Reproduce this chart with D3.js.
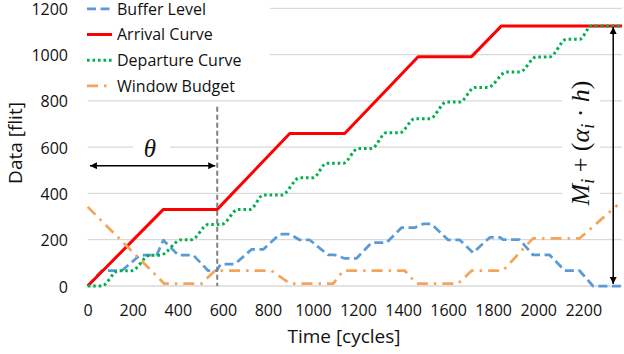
<!DOCTYPE html>
<html>
<head>
<meta charset="utf-8">
<script src="https://cdn.jsdelivr.net/npm/d3@7"></script>
<style>
  body { margin: 0; background: #fff; }
  svg { display: block; }
  text { font-family: "Open Sans", "Noto Sans", sans-serif; fill: #111; }
  text.math { font-family: "Liberation Serif", "DejaVu Serif", serif; }
</style>
</head>
<body>
<svg id="chart" width="624" height="354"></svg>
<script>
// данные: [время, значение]
const bufferLevel = [[0,0],[62,66],[151,66],[232,133],[306,133],[336,198],[402,133],[469,133],[535,66],[572,66],[590,94],[653,94],[727,158],[779,158],[853,224],[897,224],[942,199],[986,199],[1067,134],[1097,134],[1141,119],[1193,119],[1260,187],[1326,187],[1393,252],[1452,252],[1489,268],[1526,268],[1600,199],[1652,199],[1711,144],[1785,210],[1830,210],[1844,200],[1918,200],[1977,134],[2051,134],[2118,66],[2184,66],[2243,0],[2372,0]];
const arrivalCurve = [[0,0],[336,331],[575,331],[897,659],[1141,659],[1467,991],[1704,991],[1837,1124],[2372,1124]];
const departureCurve = [[0,0],[62,0],[136,66],[195,66],[276,133],[321,133],[417,200],[461,200],[535,266],[594,266],[668,331],[721,331],[779,393],[861,393],[942,468],[1001,468],[1060,530],[1134,530],[1200,594],[1260,594],[1326,662],[1386,662],[1452,723],[1519,723],[1593,795],[1652,795],[1718,858],[1777,858],[1859,925],[1918,925],[1992,990],[2051,990],[2125,1066],[2184,1066],[2236,1124],[2372,1124]];
const windowBudget = [[0,342],[340,10],[505,10],[565,66],[816,66],[898,10],[1090,10],[1134,66],[1408,66],[1460,10],[1644,10],[1704,66],[1843,66],[1977,206],[2184,206],[2352,350]];

const xTicks = [0,200,400,600,800,1000,1200,1400,1600,1800,2000,2200];
const yTicks = [0,200,400,600,800,1000,1200];
const seriesNames = ['Buffer Level','Arrival Curve','Departure Curve','Window Budget'];

const theta = 575;       // положение пунктирной линии θ
const mArrowX = 2333;    // положение стрелки M_i + (α_i·h)

const svg = d3.select('#chart');
const x = d3.scaleLinear().domain([0, 2372]).range([87.7, 622]);
const y = d3.scaleLinear().domain([0, 1200]).range([286, 8.3]);

// стили серий
const styles = [
    { data: bufferLevel,    color: '#5B9BD5', width: 2.75, dash: '9,4.5',        curve: d3.curveLinear },
    { data: arrivalCurve,   color: '#FF0000', width: 3,    dash: null,           curve: d3.curveLinear },
    { data: departureCurve, color: '#00B050', width: 3,    dash: '2.6,2.9',      curve: d3.curveMonotoneX },
    { data: windowBudget,   color: '#F4A55A', width: 2.75, dash: '11,6,2.5,6',   curve: d3.curveLinear }
];

// сетка
svg.append('g').selectAll('line')
    .data(yTicks)
    .enter()
    .append('line')
    .attr('x1', x.range()[0]).attr('x2', x.range()[1])
    .attr('y1', d => y(d)).attr('y2', d => y(d))
    .attr('stroke', '#d9d9d9')
    .attr('stroke-width', 1.3);

// подписи осей
const yAxis = d3.axisLeft(y).tickValues(yTicks).tickFormat(d3.format('d')).tickSize(0).tickPadding(0);
svg.append('g')
    .attr('transform', 'translate(68,0)')
    .call(yAxis)
    .call(g => g.select('.domain').remove())
    .call(g => g.selectAll('text')
        .attr('font-size', 16)
        .attr('dy', '0.38em'));

const xAxis = d3.axisBottom(x).tickValues(xTicks).tickFormat(d3.format('d')).tickSize(0).tickPadding(0);
svg.append('g')
    .attr('transform', 'translate(0,304)')
    .call(xAxis)
    .call(g => g.select('.domain').remove())
    .call(g => g.selectAll('text')
        .attr('font-size', 16)
        .attr('dy', '0.75em'));

svg.append('text')
    .attr('x', 344).attr('y', 343)
    .attr('text-anchor', 'middle')
    .attr('font-size', 19)
    .text('Time [cycles]');

svg.append('text')
    .attr('transform', 'translate(21.5,143) rotate(-90)')
    .attr('text-anchor', 'middle')
    .attr('font-size', 19)
    .text('Data [flit]');

// линии
const line = d3.line().x(d => x(d[0])).y(d => y(d[1]));
styles.forEach(s => {
    svg.append('path')
        .datum(s.data)
        .attr('fill', 'none')
        .attr('stroke', s.color)
        .attr('stroke-width', s.width)
        .attr('stroke-dasharray', s.dash)
        .attr('stroke-linejoin', 'round')
        .attr('d', line.curve(s.curve));
});

// легенда
svg.append('rect')
    .attr('x', 76).attr('y', 0).attr('width', 194).attr('height', 97)
    .attr('fill', '#fff');
const legend = svg.append('g').selectAll('g')
    .data(styles)
    .enter()
    .append('g')
    .attr('transform', (d, i) => `translate(0,${8.8 + i * 25.7})`);
legend.append('line')
    .attr('x1', 87).attr('x2', 112)
    .attr('stroke', d => d.color)
    .attr('stroke-width', d => d.width)
    .attr('stroke-dasharray', d => d.dash);
legend.append('text')
    .attr('x', 117).attr('y', 5.7)
    .attr('font-size', 16)
    .text((d, i) => seriesNames[i]);

// маркеры стрелок
const defs = svg.append('defs');
defs.append('marker')
    .attr('id', 'arrow')
    .attr('viewBox', '0 0 10 10')
    .attr('refX', 10).attr('refY', 5)
    .attr('markerUnits', 'userSpaceOnUse')
    .attr('markerWidth', 9).attr('markerHeight', 7)
    .attr('orient', 'auto-start-reverse')
    .append('path')
    .attr('d', 'M0,0L10,5L0,10Z')
    .attr('fill', '#000');

// θ
svg.append('line')
    .attr('x1', x(theta)).attr('x2', x(theta))
    .attr('y1', y(775)).attr('y2', y(0))
    .attr('stroke', '#808080')
    .attr('stroke-width', 2)
    .attr('stroke-dasharray', '5,3');
svg.append('rect')
    .attr('x', 133).attr('y', 135).attr('width', 37).attr('height', 26)
    .attr('fill', '#fff');
svg.append('line')
    .attr('x1', x(10)).attr('x2', x(theta) - 2)
    .attr('y1', 165.7).attr('y2', 165.7)
    .attr('stroke', '#000')
    .attr('stroke-width', 1.5)
    .attr('marker-start', 'url(#arrow)')
    .attr('marker-end', 'url(#arrow)');
svg.append('text')
    .attr('class', 'math')
    .attr('x', 150).attr('y', 156.5)
    .attr('text-anchor', 'middle')
    .attr('font-style', 'italic')
    .attr('font-size', 25)
    .text('θ');

// M_i + (α_i · h)
svg.append('rect')
    .attr('x', 562).attr('y', 70).attr('width', 38).attr('height', 146)
    .attr('fill', '#fff');
svg.append('line')
    .attr('x1', x(mArrowX)).attr('x2', x(mArrowX))
    .attr('y1', y(1124) + 1).attr('y2', y(0) - 2)
    .attr('stroke', '#000')
    .attr('stroke-width', 1.5)
    .attr('marker-start', 'url(#arrow)')
    .attr('marker-end', 'url(#arrow)');
const mText = svg.append('text')
    .attr('class', 'math')
    .attr('transform', 'translate(589,143) rotate(-90)')
    .attr('text-anchor', 'middle')
    .attr('font-size', 26);
const parts = [
    { t: 'M', it: true }, { t: 'i', it: true, sub: true },
    { t: ' + (', it: false }, { t: 'α', it: true }, { t: 'i', it: true, sub: true },
    { t: ' · ', it: false }, { t: 'h', it: true }, { t: ')', it: false }
];
let shifted = false;
parts.forEach(p => {
    let dy = null;
    if (p.sub && !shifted) { dy = 5; shifted = true; }
    else if (!p.sub && shifted) { dy = -5; shifted = false; }
    mText.append('tspan')
        .attr('font-style', p.it ? 'italic' : 'normal')
        .attr('font-size', p.sub ? 18 : 26)
        .attr('dy', dy)
        .text(p.t);
});
</script>
</body>
</html>
